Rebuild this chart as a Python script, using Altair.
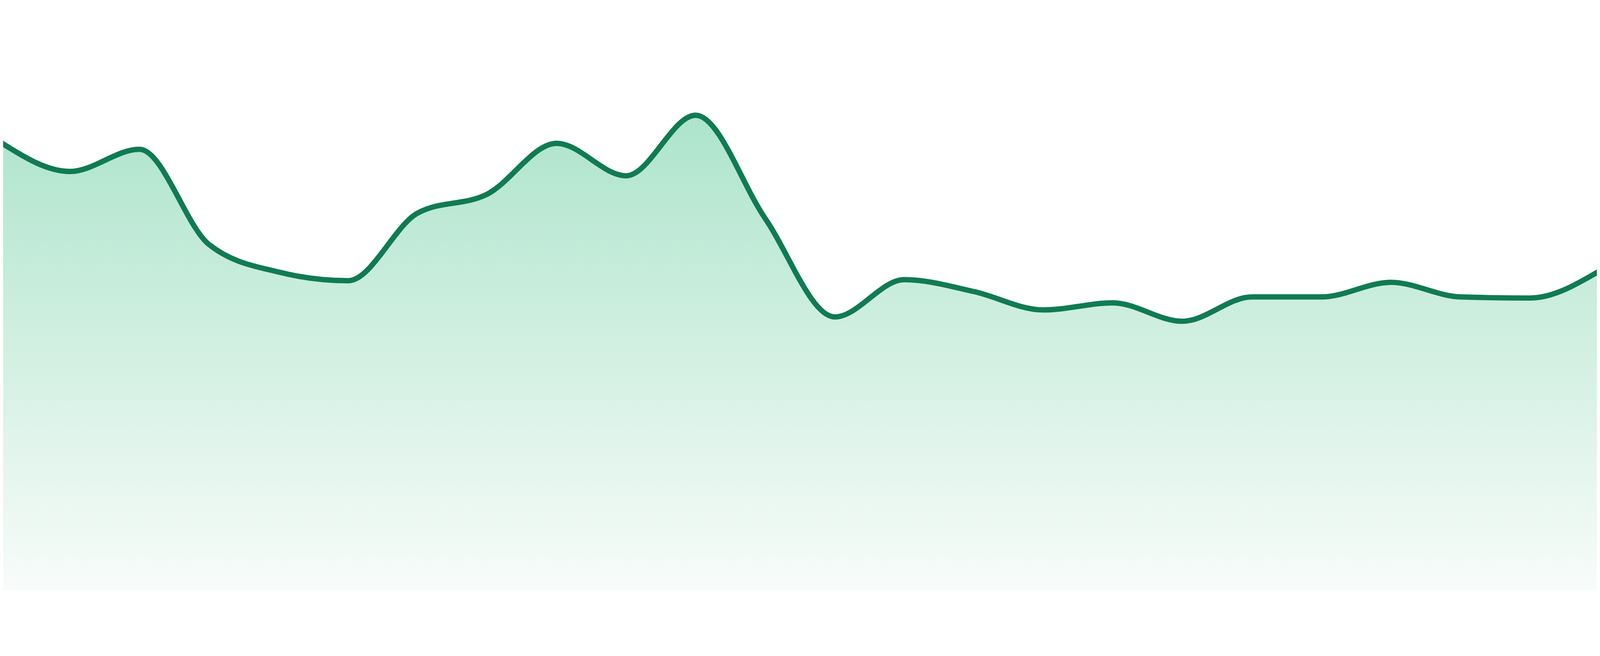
import altair as alt
import pandas as pd

# Data (24 evenly spaced points, no axes shown)
points = list(range(24))
values = [82.9, 77.5, 81.6, 64.0, 58.9, 57.3, 69.8, 73.3, 82.7, 76.7, 87.9, 68.8,
          50.6, 57.5, 55.3, 51.9, 53.2, 49.8, 54.3, 54.3, 57.0, 54.3, 54.1, 59.1]

df = pd.DataFrame({"i": points, "v": values})

LINE = "#107b53"
x_enc = alt.X("i:Q", axis=None, scale=alt.Scale(domain=[0.0383, 22.9617], nice=False, zero=False))
y_enc = alt.Y("v:Q", axis=None, scale=alt.Scale(domain=[0, 100], nice=False, zero=True))

area = alt.Chart(df).mark_area(
    interpolate="monotone",
    clip=True,
    color=alt.Gradient(
        gradient="linear",
        stops=[alt.GradientStop(color="#ade4cb", offset=0),
               alt.GradientStop(color="#f8fcfa", offset=1)],
        x1=1, x2=1, y1=0, y2=1,
    ),
).encode(x=x_enc, y=y_enc)

line = alt.Chart(df).mark_line(
    interpolate="monotone",
    clip=True,
    color=LINE,
    strokeWidth=16,
).encode(x=x_enc, y=y_enc)

chart = (area + line).properties(width=4784, height=1624, padding=0).configure_view(stroke=None)

chart.save("out.html", embed_options={"renderer": "svg", "actions": False})
